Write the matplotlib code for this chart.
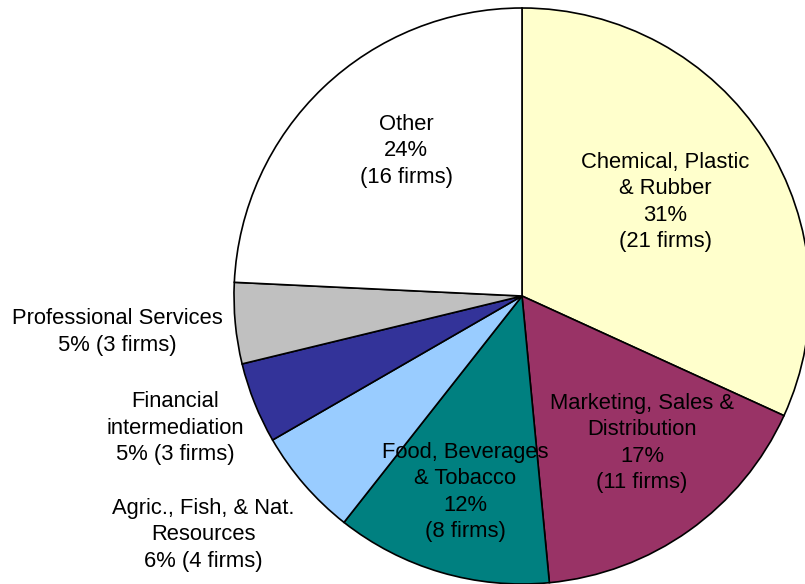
import matplotlib
matplotlib.use("Agg")
from matplotlib import pyplot as plt

# sectors, clockwise from 12 o'clock
sectors = ['Chemical, Plastic\n& Rubber', 'Marketing, Sales &\nDistribution', 'Food, Beverages\n& Tobacco',
           'Agric., Fish, & Nat.\nResources', 'Financial\nintermediation', 'Professional Services', 'Other']
firms = [21, 11, 8, 4, 3, 3, 16]
percents = ['31%', '17%', '12%', '6%', '5%', '5%', '24%']
colors = ['#FFFFCC', '#993366', '#008080', '#99CCFF', '#333399', '#C0C0C0', '#FFFFFF']
# inside labels put pct on its own line, outside ones keep pct and firms together
inside = [True, True, True, False, False, False, True]

W, H = 805, 584
plt.rcParams['font.family'] = ['Liberation Sans', 'DejaVu Sans']

fig = plt.figure(figsize=(W / 100, H / 100), dpi=100)
ax = fig.add_axes([0, 0, 1, 1])

ax.pie(firms, colors=colors, startangle=90, counterclock=False,
       center=(522, H - 296), radius=288,
       wedgeprops={'edgecolor': 'black', 'linewidth': 1.2}, frame=True)
ax.set_xlim(0, W)
ax.set_ylim(0, H)
ax.set_aspect('auto')
ax.axis('off')

# label centres in pixels (x, y from top)
label_pos = [(665, 202), (642, 443), (465, 492), (203, 535), (175, 428), (117, 332), (406, 151)]

for name, n, pct, ins, (x, y) in zip(sectors, firms, percents, inside, label_pos):
    if ins:
        txt = f'{name}\n{pct}\n({n} firms)'
    else:
        txt = f'{name}\n{pct} ({n} firms)'
    ax.text(x, H - y, txt, ha='center', va='center', fontsize=15.8,
            linespacing=1.33, color='black', zorder=5)

fig.savefig('out.png', dpi=100)
